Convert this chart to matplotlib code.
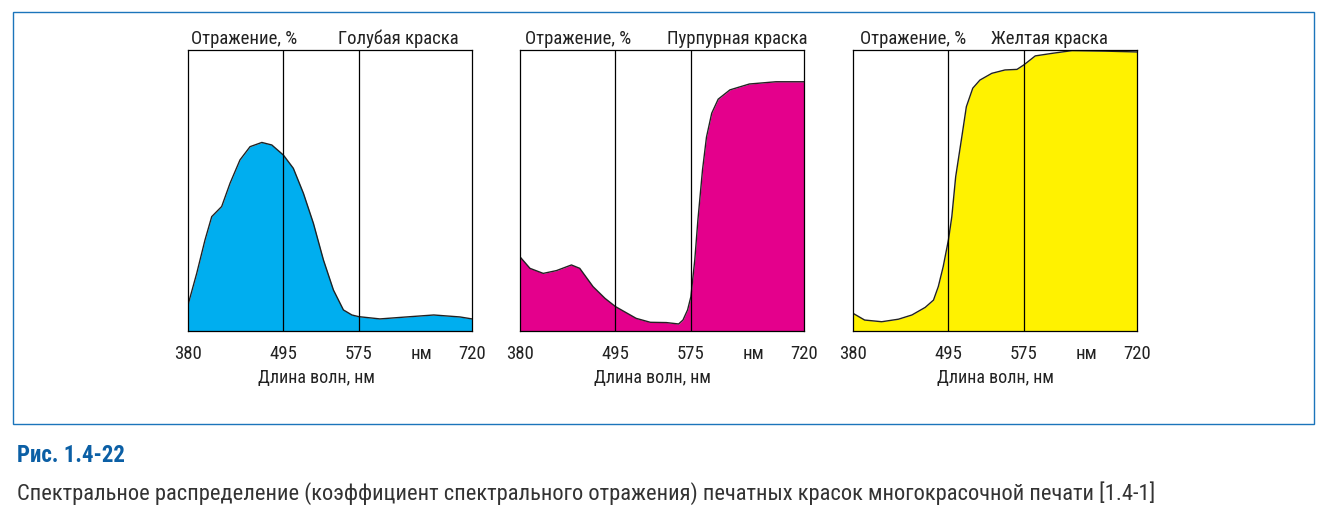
import numpy as np
import matplotlib.pyplot as plt
from matplotlib.patches import Rectangle

plt.rcParams['font.family'] = ['Roboto Condensed', 'DejaVu Sans']

# --- данные (длина волны, нм / отражение, %) ---
cyan_wl = [380, 390.5, 400.5, 408.6, 414.6, 420.6, 430.7, 442.7, 454.8, 469, 481, 495, 505.5, 516.2,
           526.8, 537.4, 548, 558.6, 567.6, 575, 602, 636, 671, 704.5, 720]
cyan_r = [9.3, 20.5, 32.4, 40.7, 42.5, 44.3, 52.6, 60.9, 65.6, 67.1, 66.2, 62.6, 57.9, 49,
          38.3, 25.3, 14.6, 7.5, 5.7, 5.1, 4.3, 5.0, 5.7, 5.0, 4.3]

magenta_wl = [380, 392, 408, 424, 442, 452, 468, 482.5, 495, 517, 532, 549, 562, 566.6, 571.5, 575,
              580, 584, 589.9, 595, 601.7, 610, 625, 650, 684, 720]
magenta_r = [26.4, 22.3, 20.5, 21.5, 23.5, 22.3, 15.8, 11.6, 8.7, 4.5, 3.1, 3.0, 2.5, 3.9, 7.5, 12.2,
             25.3, 39.5, 57.3, 69, 77.5, 82.5, 85.8, 87.9, 88.7, 88.7]

yellow_wl = [380, 394, 414.6, 434.8, 451, 467, 477, 482.8, 488.7, 495, 498.6, 502.7, 509.2, 514,
             520.8, 528.4, 541, 555, 567.7, 575, 589.6, 611, 637, 679, 720]
yellow_r = [6.3, 3.9, 3.3, 4.2, 5.7, 8.4, 11, 15.8, 22.9, 32.4, 40.7, 54.9, 69.1, 79.8,
            86.4, 89.3, 91.7, 92.9, 93.1, 94.7, 97.9, 98.8, 99.8, 99.6, 99.3]

tick_wl = [380, 495, 575, 720]
marker_wl = [495, 575]
titles = ['Голубая краска', 'Пурпурная краска', 'Желтая краска']
colors = ['#00AEEF', '#E4008C', '#FFF200']

# неравномерная шкала длин волн, как на рисунке
scale_wl = [380, 495, 575, 720]
scale_pos = [0.0, 0.336, 0.6017, 1.0]
fwd = lambda x: np.interp(x, scale_wl, scale_pos)
inv = lambda p: np.interp(p, scale_pos, scale_wl)

fig = plt.figure(figsize=(13.27, 5.18), dpi=100)

# рамка рисунка
fig.patches.append(Rectangle((13/1327, 1-424/518), 1301/1327, 412/518, transform=fig.transFigure,
                             fill=False, edgecolor='#1B75BB', linewidth=1.0))

lefts = [188/1327, 520/1327, 853/1327]
ref_x = [0.197, 0.204, 0.211]
name_x = [0.74, 0.764, 0.69]
xlab_x = [0.454, 0.465, 0.5]
data = [(cyan_wl, cyan_r), (magenta_wl, magenta_r), (yellow_wl, yellow_r)]

for i in range(3):
    ax = fig.add_axes([lefts[i], 1-331/518, 284/1327, 281/518])
    ax.set_xscale('function', functions=(fwd, inv))
    wl, r = data[i]
    ax.fill_between(wl, r, 0, color=colors[i], linewidth=0)
    ax.plot(wl, r, color='#222222', linewidth=1.0)
    for m in marker_wl:
        ax.axvline(m, color='black', linewidth=0.9)
    ax.set_xlim(380, 720)
    ax.set_ylim(0, 100)
    ax.set_yticks([])
    ax.set_xticks(tick_wl + [655])
    ax.set_xticklabels([str(t) for t in tick_wl] + ['нм'])
    ax.tick_params(axis='x', length=0, pad=10, labelsize=13.5, colors='#222222')
    for s in ax.spines.values():
        s.set_linewidth(0.9)
    ax.set_xlabel('Длина волн, нм', fontsize=13, color='#222222', labelpad=7)
    ax.xaxis.set_label_coords(xlab_x[i], -0.135)
    ax.text(ref_x[i], 1.022, 'Отражение, %', transform=ax.transAxes, ha='center', va='baseline',
            fontsize=13.5, color='#222222')
    ax.text(name_x[i], 1.022, titles[i], transform=ax.transAxes, ha='center', va='baseline',
            fontsize=13.5, color='#222222')

fig.text(17/1327, 1-455/518, 'Рис. 1.4-22', fontsize=16.5, fontweight='bold', color='#0B5FA5', va='center')
fig.text(17/1327, 1-493/518,
         'Спектральное распределение (коэффициент спектрального отражения) печатных красок многокрасочной печати [1.4-1]',
         fontsize=16.2, color='#333333', va='center')

fig.savefig('out.png', dpi=100)
